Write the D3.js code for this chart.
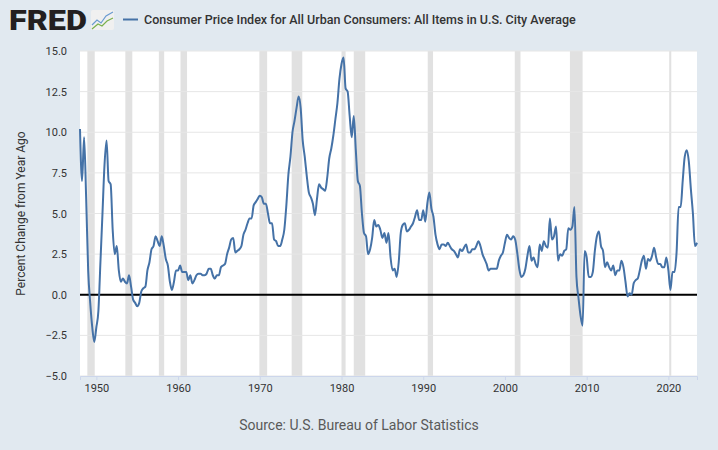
<!DOCTYPE html>
<html><head><meta charset="utf-8">
<script src="https://cdn.jsdelivr.net/npm/d3@7"></script>
<style>body{margin:0;background:#e1e9f0;font-family:Roboto,sans-serif}</style>
</head><body><div class="canvas"></div>
<script>
// quarterly year-over-year % change, starting 1948 Q1
const startYear = 1948;
const values = [
10.2,7.0,9.7,6.0, 1.5,-0.5,-2.0,-2.9, -2.0,-1.0,2.0,5.0, 8.0,9.5,7.0,6.8,
4.0,2.5,3.0,1.5, 0.8,1.0,0.8,0.7, 1.2,0.5,-0.3,-0.5, -0.7,-0.5,0.2,0.4,
0.5,1.5,2.0,2.8, 3.0,3.6,3.3,3.0, 3.6,3.0,2.2,1.8, 0.8,0.3,0.8,1.5,
1.5,1.8,1.4,1.4, 1.4,0.9,1.2,0.7, 0.9,1.2,1.3,1.3, 1.2,1.2,1.3,1.6,
1.6,1.2,1.0,1.2, 1.2,1.7,1.8,1.9, 2.5,2.9,3.4,3.5, 2.6,2.7,2.8,3.0,
3.7,4.0,4.4,4.7, 4.7,5.5,5.7,5.9, 6.1,6.0,5.6,5.6, 5.0,4.4,4.4,3.4,
3.3,3.0,3.0,3.4, 4.0,5.5,7.4,8.5, 10.0,10.7,11.5,12.2, 11.5,9.5,8.5,7.3,
6.3,6.0,5.6,4.9, 5.9,6.8,6.6,6.5, 6.4,7.2,8.4,9.0, 9.8,10.8,11.8,13.3,
14.2,14.6,12.7,12.5, 11.0,9.7,11.0,8.9, 7.0,6.7,5.0,3.8, 3.6,2.5,2.8,3.5,
4.6,4.2,4.3,4.0, 3.5,3.8,3.2,3.8, 2.3,1.5,1.6,1.1, 2.0,3.8,4.3,4.4,
3.9,4.0,4.2,4.4, 4.8,5.2,4.6,4.6, 5.2,4.5,5.6,6.3, 5.3,4.8,3.7,3.1,
2.8,3.1,3.1,3.0, 3.2,3.0,2.8,2.7, 2.5,2.3,2.8,2.7, 2.9,3.1,2.6,2.6,
2.8,2.8,3.0,3.3, 3.0,2.5,2.2,1.9, 1.5,1.6,1.6,1.6, 1.6,2.1,2.4,2.6,
3.2,3.7,3.5,3.4, 3.6,3.4,2.6,1.6, 1.1,1.2,1.6,2.4, 3.0,2.1,2.3,1.9,
1.7,3.1,2.7,3.3, 3.0,2.9,4.7,3.4, 3.6,4.2,2.1,2.5, 2.4,2.7,2.8,4.1,
4.0,4.2,5.4,1.1, -0.2,-1.3,-1.9,2.7, 2.3,1.1,1.1,1.4, 2.7,3.6,3.9,3.0,
2.7,1.7,2.0,1.7, 1.5,1.8,1.2,1.5, 1.5,2.1,1.7,0.8, -0.1,0.1,0.0,0.7,
0.9,1.0,1.5,2.1, 2.4,1.6,2.2,2.1, 2.4,2.9,2.3,1.9, 1.9,1.7,1.7,2.3,
1.5,0.3,1.4,1.4, 2.6,5.4,5.4,7.0, 8.5,8.9,8.2,6.5, 5.0,3.0,3.2];
const recessions = [[1948.9,1949.8],[1953.55,1954.4],[1957.65,1958.3],[1960.3,1961.1],
[1969.95,1970.9],[1973.9,1975.2],[1980.0,1980.5],[1981.5,1982.9],[1990.55,1991.2],
[2001.2,2001.9],[2007.95,2009.5],[2020.1,2020.35]];
const yTicks = [-5,-2.5,0,2.5,5,7.5,10,12.5,15];
const xTicks = [1950,1960,1970,1980,1990,2000,2010,2020];

const data = values.map((v,i) => ({t: startYear + i/4, v}));
const W = 718, H = 450;
const m = {top: 51, right: 21, bottom: 74, left: 80};
const gw = W - m.left - m.right, gh = H - m.top - m.bottom;

const svg = d3.select('.canvas').append('svg').attr('width', W).attr('height', H);
svg.append('rect').attr('width', W).attr('height', H).attr('fill', '#e1e9f0');

// header
svg.append('text').attr('x', 9).attr('y', 30).text('FRED')
  .attr('font-family', 'Roboto, sans-serif').attr('font-weight', 900).attr('font-size', 28)
  .attr('fill', '#231f20').attr('textLength', 78).attr('lengthAdjust', 'spacingAndGlyphs');
svg.append('rect').attr('x', 91).attr('y', 10).attr('width', 23).attr('height', 20)
  .attr('fill', '#f0f0f0').attr('rx', 2);
svg.append('polyline').attr('points', '92,25 97,20 101,23 106,16 113,12').attr('fill', 'none').attr('stroke', '#6a9bd1').attr('stroke-width', 1.2);
svg.append('polyline').attr('points', '92,29 98,24 102,26 107,21 113,18').attr('fill', 'none').attr('stroke', '#7ab04c').attr('stroke-width', 1.2);
svg.append('line').attr('x1', 123).attr('x2', 138).attr('y1', 19.5).attr('y2', 19.5).attr('stroke', '#4572a7').attr('stroke-width', 2);
svg.append('text').attr('x', 144).attr('y', 24).attr('font-size', 12.5).attr('font-weight', 500).attr('fill', '#333')
  .text('Consumer Price Index for All Urban Consumers: All Items in U.S. City Average');

const g = svg.append('g').attr('transform', `translate(${m.left},${m.top})`);
g.append('rect').attr('width', gw).attr('height', gh).attr('fill', '#fff');

const x = d3.scaleLinear().domain([startYear, 2023.5]).range([0, gw]);
const y = d3.scaleLinear().domain([-5, 15]).range([gh, 0]);

g.selectAll('.rec').data(recessions).enter().append('rect')
  .attr('x', d => x(d[0])).attr('width', d => x(d[1]) - x(d[0]))
  .attr('y', 0).attr('height', gh).attr('fill', '#e1e1e1');

g.selectAll('.grid').data(yTicks).enter().append('line')
  .attr('x1', 0).attr('x2', gw).attr('y1', d => y(d)).attr('y2', d => y(d))
  .attr('stroke', '#e6e6e6');

g.append('line').attr('x1', 0).attr('x2', gw).attr('y1', y(0)).attr('y2', y(0))
  .attr('stroke', '#000').attr('stroke-width', 2);

const line = d3.line().x(d => x(d.t)).y(d => y(d.v)).curve(d3.curveMonotoneX);
g.append('path').datum(data).attr('d', line).attr('fill', 'none')
  .attr('stroke', '#4572a7').attr('stroke-width', 2);

const yAxis = g.append('g').call(d3.axisLeft(y).tickValues(yTicks).tickFormat(d3.format('.1f')).tickSize(0).tickPadding(13));
yAxis.select('.domain').remove();
yAxis.selectAll('text').attr('font-size', 11).attr('fill', '#333').attr('font-family', 'Roboto');

const xAxis = g.append('g').attr('transform', `translate(0,${gh})`)
  .call(d3.axisBottom(x).tickValues(xTicks).tickFormat(d3.format('d')).tickSize(4).tickPadding(4));
xAxis.select('.domain').attr('stroke', '#ccd6eb');
xAxis.selectAll('line').attr('stroke', '#ccd6eb');
xAxis.selectAll('text').attr('font-size', 11).attr('fill', '#333').attr('font-family', 'Roboto');

svg.append('text').attr('transform', `translate(25,${m.top + gh/2}) rotate(-90)`)
  .attr('text-anchor', 'middle').attr('font-size', 12).attr('fill', '#333')
  .text('Percent Change from Year Ago');

svg.append('text').attr('x', W/2).attr('y', 430).attr('text-anchor', 'middle')
  .attr('font-size', 14).attr('fill', '#595959').text('Source: U.S. Bureau of Labor Statistics');
</script></body></html>
